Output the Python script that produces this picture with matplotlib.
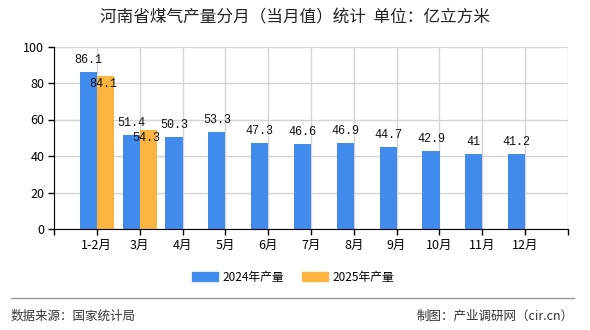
import matplotlib
matplotlib.use("Agg")
import matplotlib.pyplot as plt
from matplotlib.patches import Patch
from matplotlib.lines import Line2D
import numpy as np

plt.rcParams['font.family'] = ['Noto Sans CJK SC', 'DejaVu Sans']

title = "河南省煤气产量分月（当月值）统计  单位：亿立方米"
categories = ["1-2月", "3月", "4月", "5月", "6月", "7月", "8月", "9月", "10月", "11月", "12月"]
series_2024 = [86.1, 51.4, 50.3, 53.3, 47.3, 46.6, 46.9, 44.7, 42.9, 41, 41.2]
series_2025 = [84.1, 54.3]
labels_2024 = ["86.1", "51.4", "50.3", "53.3", "47.3", "46.6", "46.9", "44.7", "42.9", "41", "41.2"]
labels_2025 = ["84.1", "54.3"]
legend_names = ["2024年产量", "2025年产量"]
source_text = "数据来源：国家统计局"
credit_text = "制图：产业调研网（cir.cn）"

c_blue = "#418BEC"
c_orange = "#FBB440"

fig = plt.figure(figsize=(5.9, 3.3), dpi=100)
ax = fig.add_axes([54/590, 1-229/330, (568-54)/590, (229-46.5)/330])

x = np.arange(1, len(categories) + 1)
x25 = x[:len(series_2025)]
ax.bar(x - 0.2, series_2024, width=0.4, color=c_blue, zorder=3)
ax.bar(x25 + 0.2, series_2025, width=0.4, color=c_orange, zorder=3)

num_font = dict(family=['Liberation Mono', 'DejaVu Sans Mono'], fontsize=8.5, color='#111111')
for xi, v, t in zip(x, series_2024, labels_2024):
    ax.annotate(t, (xi - 0.2, v), xytext=(0, 12), textcoords='offset pixels',
                ha='center', va='center', zorder=5, **num_font)
for xi, v, t in zip(x25, series_2025, labels_2025):
    ax.annotate(t, (xi + 0.15, v), xytext=(0, -8), textcoords='offset pixels',
                ha='center', va='center', zorder=5, **num_font)

ax.set_xlim(0, 12)
ax.set_ylim(0, 100)
ax.set_yticks([0, 20, 40, 60, 80, 100])
ax.set_yticklabels(["0", "20", "40", "60", "80", "100"], fontsize=9)
ax.set_xticks(np.arange(0, 13))
ax.set_xticklabels([""] + categories + [""], fontsize=9)
ax.tick_params(axis='both', length=4, width=1, color='black', pad=3)
ax.grid(True, color='#d4d4d4', linewidth=1, zorder=0)
ax.set_axisbelow(True)
for s in ['top', 'right']:
    ax.spines[s].set_visible(False)
ax.spines['left'].set_color('black')
ax.spines['bottom'].set_color('black')
ax.spines['left'].set_zorder(4)
ax.spines['bottom'].set_zorder(4)

fig.text(0.5, 1 - 18/330, title, ha='center', va='center', fontsize=12, color='#222222')

handles = [Patch(color=c_blue), Patch(color=c_orange)]
fig.legend(handles, legend_names, loc='center', bbox_to_anchor=(293/590, 1 - 277/330),
           ncol=2, frameon=False, fontsize=8.5, handlelength=2.2, handleheight=0.9,
           columnspacing=1.5, handletextpad=0.4)

fig.add_artist(Line2D([11/590, 574/590], [1 - 298/330, 1 - 298/330], color='#999999', linewidth=1))
fig.text(11/590, 1 - 316/330, source_text, ha='left', va='center', fontsize=9, color='#333333')
fig.text(574/590, 1 - 316/330, credit_text, ha='right', va='center', fontsize=9, color='#333333')

fig.savefig("out.png", dpi=100)
